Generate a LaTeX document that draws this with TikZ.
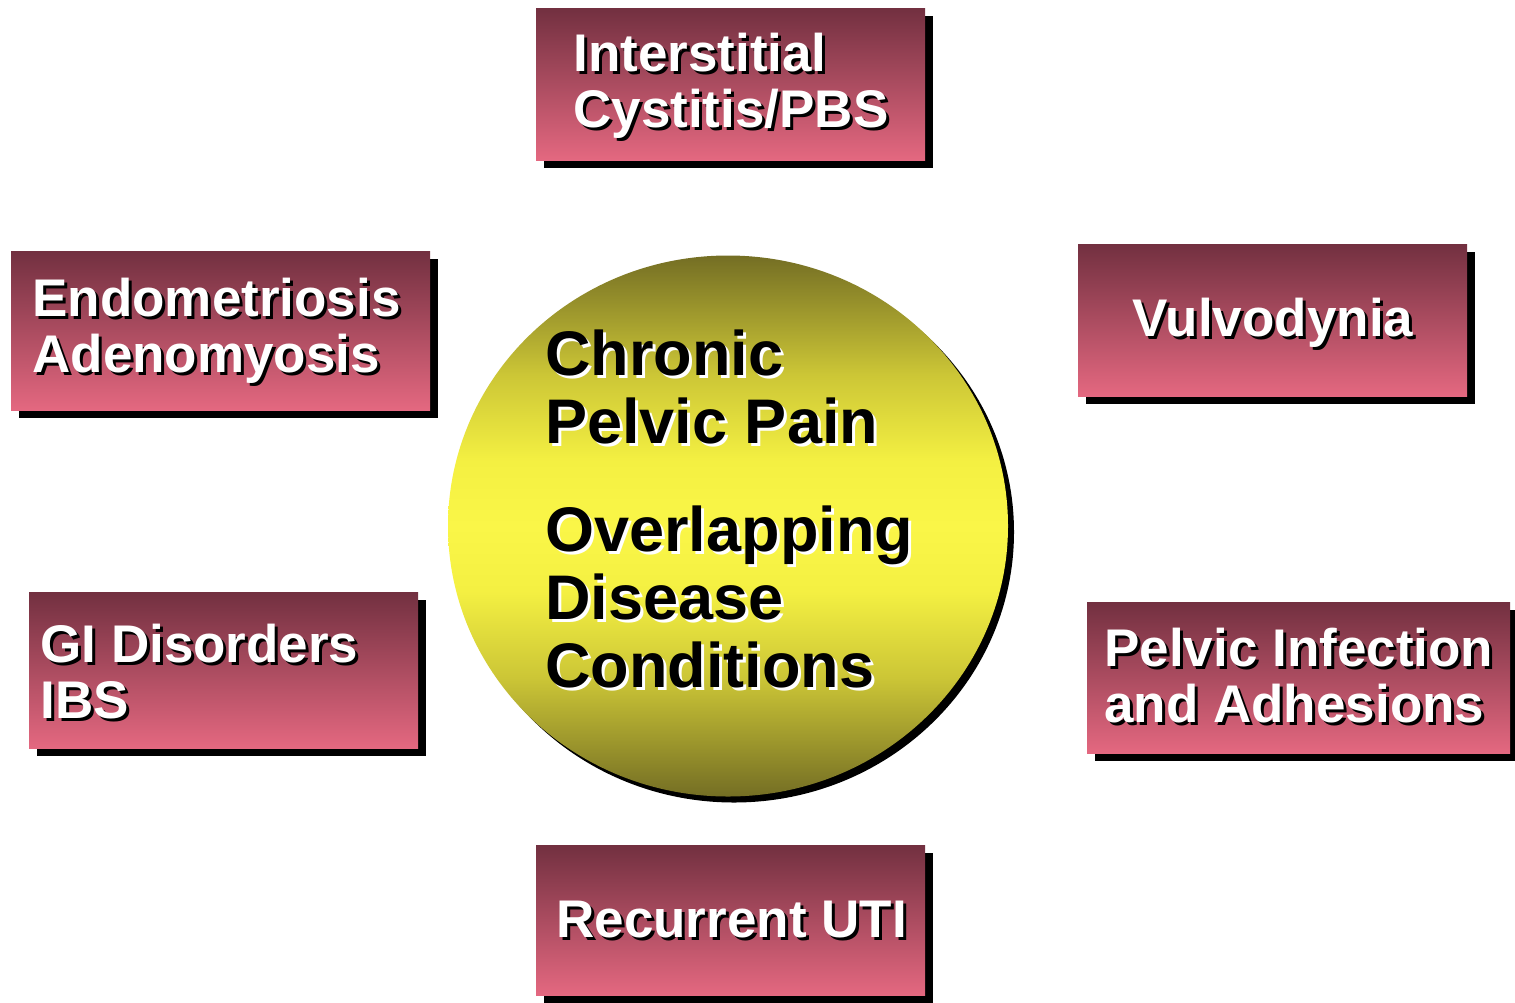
\documentclass[tikz,border=0pt]{standalone}
\usepackage{fontspec}
\setmainfont{Liberation Sans}
\usetikzlibrary{positioning,shapes.geometric,shadows}
\definecolor{plumtop}{RGB}{114,48,64}
\definecolor{pinkbot}{RGB}{228,104,128}
\definecolor{olivedark}{RGB}{116,110,36}
\definecolor{olivemid}{RGB}{204,198,54}
\definecolor{olivelight}{RGB}{244,240,66}
\definecolor{sunyellow}{RGB}{250,246,72}
\pgfdeclareverticalshading{coreshade}{100bp}{color(0bp)=(olivedark); color(25bp)=(olivedark);
  color(36bp)=(olivemid); color(44bp)=(olivelight); color(50bp)=(sunyellow);
  color(56bp)=(olivelight); color(64bp)=(olivemid); color(75bp)=(olivedark); color(100bp)=(olivedark)}
\newcommand{\shtxt}[2]{\leavevmode\rlap{\kern1.5pt\raisebox{-1.5pt}{\color{#1}#2}}#2}

\begin{document}
\begin{tikzpicture}[
    x=0.5pt, y=-0.5pt,
    cond/.style={rectangle, inner sep=0pt, minimum width=194.5pt, minimum height=76pt,
        top color=plumtop, bottom color=pinkbot,
        drop shadow={shadow xshift=4pt, shadow yshift=-4pt, fill=black, opacity=1}},
    condtxt/.style={text=white, align=left, inner sep=0pt,
        font=\fontsize{26.5}{28}\selectfont\bfseries},
    core/.style={ellipse, inner sep=0pt, minimum width=280pt, minimum height=270.5pt,
        shading=coreshade,
        drop shadow={shadow xshift=3pt, shadow yshift=-3pt, fill=black, opacity=1}},
    coretxt/.style={text=black, align=left, inner sep=0pt,
        font=\fontsize{31.5}{34}\selectfont\bfseries}
]
    \useasboundingbox (0,0) rectangle (1515,1002);

    % centre
    \node[core] (cpp) at (728,526) {};
    \node[coretxt, anchor=west] (cpp-t) at (545,510)
        {\shtxt{white}{Chronic}\\\shtxt{white}{Pelvic Pain}\\[20pt]
         \shtxt{white}{Overlapping}\\\shtxt{white}{Disease}\\\shtxt{white}{Conditions}};

    % conditions
    \node[cond] (ic) at (730.5,84) {};
    \node[condtxt, anchor=west] (ic-t) at (573,87)
        {\shtxt{black}{Interstitial}\\\shtxt{black}{Cystitis/PBS}};
    \node[cond, minimum width=209.5pt, minimum height=79.5pt] (endo) at (220.5,330.5) {};
    \node[condtxt, anchor=west] (endo-t) at (32,332)
        {\shtxt{black}{Endometriosis}\\\shtxt{black}{Adenomyosis}};
    \node[cond, minimum height=78pt] (gi) at (223.5,670) {};
    \node[condtxt, anchor=west] (gi-t) at (40,673.5)
        {\shtxt{black}{GI Disorders}\\\shtxt{black}{IBS}};
    \node[cond] (vul) at (1272.5,320) {};
    \node[condtxt, anchor=base west] (vul-t) at (1132,336) {\shtxt{black}{Vulvodynia}};
    \node[cond, minimum width=211.5pt, minimum height=75.5pt] (pid) at (1298.5,677.5) {};
    \node[condtxt, anchor=west] (pid-t) at (1104,677.5)
        {\shtxt{black}{Pelvic Infection}\\\shtxt{black}{and Adhesions}};
    \node[cond, minimum height=75pt] (uti) at (730.5,920) {};
    \node[condtxt, anchor=base west] (uti-t) at (556,937) {\shtxt{black}{Recurrent UTI}};
\end{tikzpicture}
\end{document}
